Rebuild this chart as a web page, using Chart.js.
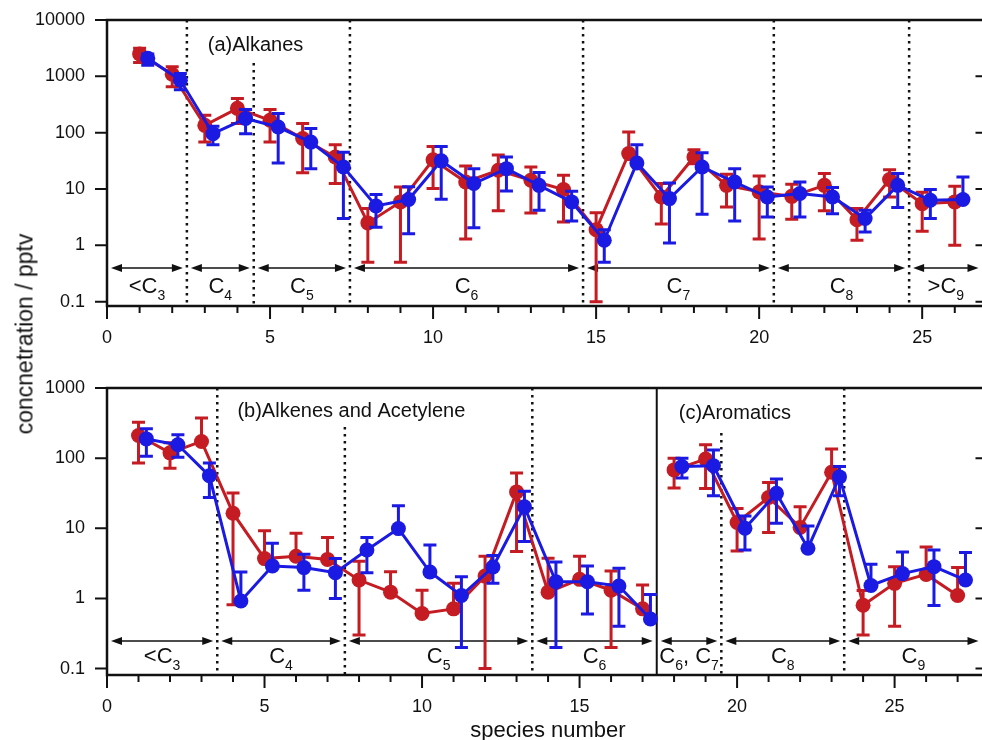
<!DOCTYPE html>
<html><head><meta charset="utf-8">
<script src="https://cdn.jsdelivr.net/npm/chart.js@4.4.1/dist/chart.umd.min.js"></script>
<style>
html,body{margin:0;padding:0;background:#fff;overflow:hidden;}
#wrap{width:982px;height:740px;position:relative;overflow:hidden;font-family:'Liberation Sans',Arial,sans-serif;color:#111;background:#fff;}
canvas{position:absolute;left:0;}
#c1{top:0}
#c2{top:360px}
#ytitle{position:absolute;left:25px;top:334px;transform:translate(-50%,-50%) rotate(-90deg);font-size:23px;white-space:nowrap;}
#xtitle{position:absolute;left:548px;top:730px;transform:translate(-50%,-50%);font-size:22px;white-space:nowrap;}
</style></head><body>
<div id="wrap">
<canvas id="c1" width="990" height="360"></canvas>
<canvas id="c2" width="990" height="380"></canvas>
<div id="ytitle">concnetration / pptv</div>
<div id="xtitle">species number</div>
</div>
<script>
// ---------- data ----------
// (a) Alkanes
const speciesA = [1,2,3,4,5,6,7,8,9,10,11,12,13,14,15,16,17,18,19,20,21,22,23,24,25,26];
const aRed     = [2500,1090,135,270,166,79,37,2.5,5.9,33,13.3,21.5,14.3,9.8,1.9,42.5,7.2,37,11.6,8.9,7.4,11.6,2.85,14.7,5.5,5.9];
const aRedHi   = [3150,1480,204,405,258,145,61,4.5,10.8,57,25.6,40,24.6,17.5,3.8,103,12.5,50,18.3,17,12.1,18.8,4.5,22,8.8,11.2];
const aRedLo   = [1760,650,68,145,68,19.5,12.5,0.5,0.5,10.2,1.3,4.1,3.75,2.6,0.1,null,2.4,28,4.8,1.3,2.9,4.1,1.23,7.2,1.77,1.0];
const aBlue    = [2090,850,96,178,126,68,24.6,5,6.5,31.6,12.5,23,11.6,5.9,1.23,29,6.75,24.6,13.3,7.2,8.3,7.2,3.0,11.6,6.3,6.5];
const aBlueHi  = [2500,1120,130,258,218,118,45,8,11,57,23,37,19.6,9.1,1.9,61,12.8,44,23,10.8,13.3,10.6,4.2,18.8,9.8,16.3];
const aBlueLo  = [1580,580,61,96,29,23,3,2.1,1.6,6.6,2.05,9.2,4.2,2.7,0.5,null,1.1,3.55,2.7,3.2,3.2,3.65,1.72,4.7,3.0,null];

// (b) Alkenes and Acetylene
const speciesB = [1,2,3,4,5,6,7,8,9,10,11,12,13,14,15,16,17];
const bRed     = [210,119,173,16.4,3.7,4.0,3.6,1.83,1.23,0.61,0.71,2.08,33,1.23,1.87,1.31,0.71];
const bRedHi   = [325,166,372,31.8,9.2,8.5,7.4,3.4,2.4,1.31,1.64,4.0,61.5,3.73,4.0,2.46,1.55];
const bRedLo   = [85,72,null,0.81,null,null,null,0.3,null,null,null,0.1,4.65,null,null,0.2,null];
const bBlue    = [188,155,56,0.92,2.9,2.75,2.33,4.9,9.9,2.38,1.1,2.8,20.2,1.73,1.73,1.5,0.51];
const bBlueHi  = [262,215,85,2.38,6.1,4.26,3.7,7.4,21,5.8,2.04,4.1,33.6,3.3,2.9,2.7,1.14];
const bBlueLo  = [106,103,27.5,null,null,1.31,1.0,2.33,null,null,0.2,1.64,6.5,0.2,0.6,0.4,null];

// (c) Aromatics
const speciesC = [18,19,20,21,22,23,24,25,26,27];
const cRed     = [68,97,12.1,27.5,10.3,63,0.8,1.64,2.2,1.1];
const cRedHi   = [100,155,19.2,45,20.2,135,1.3,2.84,5.4,2.75];
const cRedLo   = [37.5,37,4.75,8.7,null,null,0.3,0.4,null,null];
const cBlue    = [76,78,10,31.5,5.2,54,1.53,2.26,2.84,1.83];
const cBlueHi  = [100,131,15,50.5,10.8,76,3.06,4.6,4.9,4.5];
const cBlueLo  = [52,29,4.9,11.8,null,29,null,null,0.79,null];

// axis tick labels
const xTicksTop    = [0,5,10,15,20,25];
const xTicksBottom = [0,5,10,15,20,25];
const yTicksTop    = [0.1,1,10,100,1000,10000];
const yTicksBottom = [0.1,1,10,100,1000];

// carbon-number groups
const groupsTop      = ['<C_3','C_4','C_5','C_6','C_7','C_8','>C_9'];
const dividersTop    = [2.45,4.5,7.45,14.6,20.45,24.6];
const groupsBottom   = ['<C_3','C_4','C_5','C_6','C_6, C_7','C_8','C_9'];
const dividersBottom = [3.5,7.55,13.5,17.45,19.5,23.4];

// ---------- styling ----------
const RED = '#c41c22', BLUE = '#1a1ae2', INK = '#111';
const BLUE_SHIFT = 0.25;
const FONT = "'Liberation Sans', Arial, sans-serif";
Chart.defaults.font.family = FONT;
Chart.defaults.color = INK;

function series(xs, ys, shift){ return xs.map((v,i)=>({x:v+shift, y:ys[i]})); }
function makeDs(xs, ys, lo, hi, color, shift, order){
  return {data: series(xs, ys, shift), errLo: lo, errHi: hi,
    borderColor: color, backgroundColor: color, pointBackgroundColor: color,
    pointBorderColor: color, pointBorderWidth: 0, pointRadius: 7.5,
    borderWidth: 3, tension: 0, fill: false, order: order};
}

const errorBars = {
  id: 'errorBars',
  beforeDatasetDraw(chart, args){
    const ds = chart.data.datasets[args.index];
    if (!ds.errHi) return;
    const ctx = chart.ctx, xs = chart.scales.x, ys = chart.scales.y;
    ctx.save();
    ctx.strokeStyle = ds.borderColor; ctx.lineWidth = 3; ctx.lineCap = 'butt';
    ds.data.forEach((p,i)=>{
      const px = xs.getPixelForValue(p.x), py = ys.getPixelForValue(p.y);
      [ds.errHi[i], ds.errLo[i]].forEach(v=>{
        if (v == null) return;
        const ey = ys.getPixelForValue(v);
        ctx.beginPath();
        ctx.moveTo(px, py); ctx.lineTo(px, ey);
        ctx.moveTo(px-6.5, ey); ctx.lineTo(px+6.5, ey);
        ctx.stroke();
      });
    });
    ctx.restore();
  }
};

function arrow(ctx, x1, x2, y){
  ctx.lineWidth = 1.5; ctx.strokeStyle = INK; ctx.fillStyle = INK;
  ctx.beginPath(); ctx.moveTo(x1+5, y); ctx.lineTo(x2-5, y); ctx.stroke();
  ctx.beginPath(); ctx.moveTo(x1, y); ctx.lineTo(x1+11, y-4); ctx.lineTo(x1+11, y+4); ctx.closePath(); ctx.fill();
  ctx.beginPath(); ctx.moveTo(x2, y); ctx.lineTo(x2-11, y-4); ctx.lineTo(x2-11, y+4); ctx.closePath(); ctx.fill();
}
function subLabel(ctx, text, cx, baseY){
  const parts = text.split(/_(\d)/);
  const big = '22px ' + FONT, small = '14px ' + FONT;
  let w = 0;
  parts.forEach((p,i)=>{ ctx.font = i%2 ? small : big; w += ctx.measureText(p).width; });
  let x = cx - w/2;
  ctx.textAlign = 'left'; ctx.textBaseline = 'alphabetic'; ctx.fillStyle = INK;
  parts.forEach((p,i)=>{
    ctx.font = i%2 ? small : big;
    ctx.fillText(p, x, baseY + (i%2 ? 7 : 0));
    x += ctx.measureText(p).width;
  });
}

const decor = {
  id: 'decor',
  beforeDatasetsDraw(chart, args, o){
    const ctx = chart.ctx, ca = chart.chartArea, xs = chart.scales.x;
    const bounds = [xs.min, ...o.dividers, xs.max];
    ctx.save();
    o.dividers.forEach((d,i)=>{
      const px = xs.getPixelForValue(d);
      ctx.beginPath(); ctx.strokeStyle = INK;
      if (o.solid.includes(i)) { ctx.setLineDash([]); ctx.lineWidth = 2; }
      else { ctx.setLineDash([2.5, 4.5]); ctx.lineWidth = 2.5; }
      ctx.moveTo(px, ca.top + (o.gaps[i] || 0)); ctx.lineTo(px, ca.bottom); ctx.stroke();
    });
    ctx.setLineDash([]);
    const ay = ca.bottom - o.arrowRise;
    o.groups.forEach((g,i)=>{
      const x1 = xs.getPixelForValue(bounds[i]) + 4, x2 = xs.getPixelForValue(bounds[i+1]) - 4;
      arrow(ctx, x1, x2, ay);
      subLabel(ctx, g, (x1+x2)/2, ca.bottom - o.labelRise);
    });
    ctx.restore();
  },
  afterDraw(chart, args, o){
    const ctx = chart.ctx, ca = chart.chartArea, xs = chart.scales.x, ys = chart.scales.y;
    ctx.save();
    ctx.strokeStyle = INK; ctx.lineWidth = 2;
    for (let v = Math.ceil(xs.min); v <= xs.max; v++){
      const px = xs.getPixelForValue(v), len = v % 5 === 0 ? 13 : 7;
      ctx.beginPath(); ctx.moveTo(px, ca.bottom); ctx.lineTo(px, ca.bottom + len); ctx.stroke();
    }
    o.yTicks.forEach(v=>{
      const py = ys.getPixelForValue(v);
      ctx.beginPath(); ctx.moveTo(ca.left - 12, py); ctx.lineTo(ca.left, py);
      ctx.moveTo(ca.right - 7, py); ctx.lineTo(ca.right, py); ctx.stroke();
    });
    // frame: top, left, bottom (right edge lies beyond the picture)
    ctx.lineWidth = 2.5;
    ctx.beginPath();
    ctx.moveTo(ca.right + 2, ca.top); ctx.lineTo(ca.left, ca.top);
    ctx.lineTo(ca.left, ca.bottom); ctx.lineTo(ca.right + 2, ca.bottom);
    ctx.stroke();
    ctx.font = '20px ' + FONT; ctx.fillStyle = INK; ctx.textAlign = 'left'; ctx.textBaseline = 'middle';
    o.titles.forEach(t=>{ ctx.fillText(t.text, xs.getPixelForValue(t.x), ca.top + t.dy); });
    ctx.restore();
  }
};

function axes(xMax, yMin, yMax, xTicks, yTicks, xH){
  return {
    x: {type:'linear', min:0, max:xMax,
        grid:{display:false, drawTicks:false}, border:{display:false},
        afterBuildTicks: ax => { ax.ticks = xTicks.map(v=>({value:v})); },
        afterFit: ax => { ax.height = xH; ax.paddingLeft = 0; ax.paddingRight = 0; },
        ticks:{padding:21, maxRotation:0, autoSkip:false, font:{size:18}, color:INK}},
    y: {type:'logarithmic', min:yMin, max:yMax,
        grid:{display:false, drawTicks:false}, border:{display:false},
        afterBuildTicks: ax => { ax.ticks = yTicks.map(v=>({value:v})); },
        afterFit: ax => { ax.width = 107; ax.paddingTop = 0; ax.paddingBottom = 0; },
        ticks:{padding:22, autoSkip:false, font:{size:18}, color:INK, callback: v => String(v)}}
  };
}

new Chart(document.getElementById('c1'), {
  type: 'line',
  data: {datasets: [
    makeDs(speciesA, aRed, aRedLo, aRedHi, RED, 0, 1),
    makeDs(speciesA, aBlue, aBlueLo, aBlueHi, BLUE, BLUE_SHIFT, 0)
  ]},
  options: {
    responsive:false, animation:false, devicePixelRatio:1,
    layout:{padding:{top:20, right:6, left:0, bottom:0}},
    plugins:{legend:{display:false}, tooltip:{enabled:false},
      decor:{dividers:dividersTop, groups:groupsTop, solid:[], gaps:{1:43},
             arrowRise:38, labelRise:13, yTicks:yTicksTop,
             titles:[{text:'(a)Alkanes', x:3.09, dy:25}]}},
    scales: axes(26.85, 0.0838, 10000, xTicksTop, yTicksTop, 54)
  },
  plugins:[errorBars, decor]
});

new Chart(document.getElementById('c2'), {
  type: 'line',
  data: {datasets: [
    makeDs(speciesB, bRed, bRedLo, bRedHi, RED, 0, 1),
    makeDs(speciesB, bBlue, bBlueLo, bBlueHi, BLUE, BLUE_SHIFT, 0),
    makeDs(speciesC, cRed, cRedLo, cRedHi, RED, 0, 1),
    makeDs(speciesC, cBlue, cBlueLo, cBlueHi, BLUE, BLUE_SHIFT, 0)
  ]},
  options: {
    responsive:false, animation:false, devicePixelRatio:1,
    layout:{padding:{top:28, right:6, left:0, bottom:0}},
    plugins:{legend:{display:false}, tooltip:{enabled:false},
      decor:{dividers:dividersBottom, groups:groupsBottom, solid:[3], gaps:{1:39, 4:45},
             arrowRise:34, labelRise:12, yTicks:yTicksBottom,
             titles:[{text:'(b)Alkenes and Acetylene', x:4.14, dy:23},
                     {text:'(c)Aromatics', x:18.15, dy:25}]}},
    scales: axes(27.79, 0.081, 1000, xTicksBottom, yTicksBottom, 65)
  },
  plugins:[errorBars, decor]
});
</script></body></html>
